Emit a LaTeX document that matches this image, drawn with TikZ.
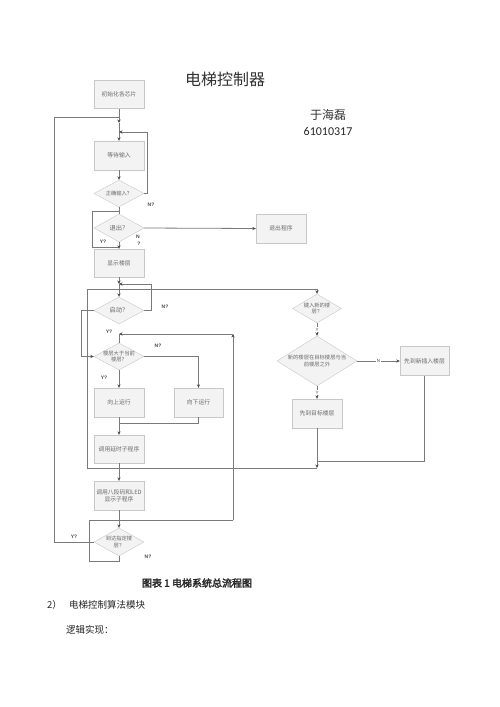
\documentclass[tikz,border=0pt]{standalone}
\usepackage{fontspec}
\setmainfont{Liberation Serif}
\newfontfamily\cjk{Noto Sans CJK SC}
\newfontfamily\cjkb[FakeBold=2.5]{Noto Sans CJK SC}
\newfontfamily\cali{Carlito}
\newfontfamily\labfont{Liberation Sans}
\usetikzlibrary{shapes.geometric,arrows.meta,shadows}
\definecolor{boxline}{HTML}{C8C8C8}
\definecolor{boxfill}{HTML}{F3F3F3}
\definecolor{linec}{HTML}{7A7A7A}
\definecolor{tipc}{HTML}{4A4A4A}
\definecolor{txtgray}{HTML}{6A6A6A}
\begin{document}
\begin{tikzpicture}[x=1pt,y=-1pt,
  box/.style={draw=boxline, fill=boxfill, minimum width=50pt, minimum height=28pt, inner sep=1pt,
    font=\cjk\fontsize{5.8}{7.2}\selectfont, text=txtgray, align=center,
    drop shadow={opacity=0.12, shadow xshift=0.8pt, shadow yshift=-0.8pt}},
  dia/.style={draw=boxline, fill=boxfill, diamond, inner sep=0pt, minimum width=50pt, minimum height=27pt},
  dtext/.style={font=\cjk\fontsize{5.3}{6.8}\selectfont, text=txtgray, align=center},
  conn/.style={draw=linec, line width=0.8pt},
  arr/.style={conn, -{Stealth[length=3.5pt,width=3.2pt,color=tipc]}},
  lab/.style={font=\labfont\bfseries\fontsize{5}{6}\selectfont, text=tipc, inner sep=0.5pt},
  llab/.style={lab, fill=white, font=\labfont\fontsize{4.5}{5}\selectfont}
]
\useasboundingbox (0,0) rectangle (500,707);
\fill[white] (0,0) rectangle (500,707);

% titles
\node[font=\cjk\fontsize{16}{18}\selectfont, text=black!80] (title) at (225,79) {电梯控制器};
\node[font=\cjk\fontsize{12}{14}\selectfont, text=black!80] (author) at (328,115) {于海磊};
\node[font=\cali\fontsize{12}{14}\selectfont, text=black!85] (num) at (328,131) {61010317};

% nodes
\node[box] (init) at (119,94.5) {初始化各芯片};
\node[box, minimum height=29pt] (wait) at (119,155.5) {等待输入};
\node[dia, label={[dtext]center:正确输入？}] (q1) at (119,193.5) {};
\node[dia, minimum height=28pt, label={[dtext, font=\cjk\fontsize{6.3}{8}\selectfont]center:退出？}] (q2) at (119,228) {};
\node[box, minimum height=29pt] (exit) at (281,228.5) {退出程序};
\node[box] (show) at (119,263) {显示楼层};
\node[dia, label={[dtext, font=\cjk\fontsize{6.3}{8}\selectfont]center:启动？}] (q3) at (119,310.5) {};
\node[dia, label={[dtext]center:{楼层大于当前\\楼层？}}] (q4) at (119,356.5) {};
\node[box, minimum height=29pt] (up) at (119,402.5) {向上运行};
\node[box, minimum height=29pt, minimum width=49pt] (down) at (198.5,402.5) {向下运行};
\node[box] (delay) at (119,449) {调用延时子程序};
\node[box, minimum height=29pt] (led) at (119,495.5) {调用八段码和LED\\显示子程序};
\node[dia, minimum height=28pt, label={[dtext]center:{到达指定楼\\层？}}] (q5) at (119,542) {};
\node[dia, minimum width=49pt, minimum height=29pt, label={[dtext]center:{键入新的楼\\层？}}] (q6) at (317,308.5) {};
\node[dia, minimum width=80pt, minimum height=50pt, label={[dtext]center:{新的楼层在目标楼层与当\\前楼层之外}}] (q7) at (317,361) {};
\node[box, minimum height=29pt, minimum width=49pt] (new) at (424.5,361) {先到新插入楼层};
\node[box, minimum height=29pt] (target) at (317,413.5) {先到目标楼层};

% junction coordinates
\coordinate (j1) at (119,117);
\coordinate (j1a) at (119,123);
\coordinate (j2) at (119,132);
\coordinate (L1) at (54,117);
\coordinate (L2) at (54,542);
\coordinate (j3) at (119,211);
\coordinate (j4) at (119,247);
\coordinate (j5) at (119,284);
\coordinate (j6) at (119,334);
\coordinate (r6) at (233,334);
\coordinate (j7) at (119,423);
\coordinate (j8) at (119,468);
\coordinate (a8) at (87,468);
\coordinate (m8) at (317,468);
\coordinate (m7) at (317,461);
\coordinate (j9) at (119,520);
\coordinate (b9) at (89,520);
\coordinate (r9) at (233,520);
\coordinate (t289) at (87,289);

% top part
\draw[arr] (init.south) -- (j1a);
\draw[arr] (j1a) -- (wait.north);
\draw[conn] (L1) -- (j1);
\draw[arr] (wait.south) -- (q1.north);
\draw[arr] (q1.east) -- ++(3,0) |- (j2);
\draw[conn] (q1.south) -- (q2.north);
\draw[conn] (j3) -- (92,211) |- (j4);
\draw[arr] (q2.south) -- (show.north);
\draw[arr] (q2.east) -- (exit.west);

% start loop
\draw[arr] (show.south) -- (j5);
\draw[arr] (j5) -- (q3.north);
\draw[arr] (q3.east) -- ++(7,0) |- (j5);
\draw[arr] (q3.west) -- ++(-12,0) |- (q4.west);

% big loop to right side
\draw[arr] (a8) -- (t289) -| (q6.north);

% direction
\draw[arr] (q4.south) -- (up.north);
\draw[arr] (q4.east) -| (down.north);
\draw[conn] (up.south) -- (j7);
\draw[conn] (down.south) |- (j7);
\draw[arr] (j7) -- (delay.north);
\draw[conn] (delay.south) -- (j8);
\draw[arr] (j8) -- (led.north);
\draw[conn] (a8) -- (m8);

% right side
\draw[arr] (q6.south) -- node[llab] (ly1) {Y} (q7.north);
\draw[arr] (q7.east) -- node[llab] (ln1) {N} (new.west);
\draw[arr] (q7.south) -- node[llab] (ly2) {Y} (target.north);
\draw[arr] (target.south) -- (m8);
\draw[conn] (new.south) |- (m7);

% bottom
\draw[conn] (led.south) -- (j9);
\draw[arr] (j9) -- (q5.north);
\draw[conn] (b9) -- (r9);
\draw[arr] (r9) -- (r6);
\draw[arr] (r6) -- (j6);
\draw[conn] (j6) -- (q4.north);
\draw[conn] (q5.south) -- (119,561) -| (b9);
\draw[conn] (q5.west) -- (L2) -- (L1);

% labels
\node[lab] (n1) at (151,205) {N?};
\node[lab] (y1) at (103,242) {Y?};
\node[lab] (n2) at (138,237) {N};
\node[lab] (n2b) at (139,244) {?};
\node[lab] (n3) at (165,307) {N?};
\node[lab] (y3) at (109,332) {Y?};
\node[lab] (n4) at (158,346) {N?};
\node[lab] (y4) at (104,378) {Y?};
\node[lab] (y5) at (74,537) {Y?};
\node[lab] (n5) at (148,557) {N?};

% caption and text
\node[font=\cjkb\fontsize{10}{12}\selectfont, text=black!85] (cap) at (197,583) {图表 1 电梯系统总流程图};
\node[font=\cjk\fontsize{9.5}{11}\selectfont, text=black!85, anchor=west, inner sep=0pt] (s2) at (47,605) {2）};
\node[font=\cjk\fontsize{9.5}{11}\selectfont, text=black!85, anchor=west, inner sep=0pt] (s2t) at (69,605) {电梯控制算法模块};
\node[font=\cjk\fontsize{9.5}{11}\selectfont, text=black!85, anchor=west, inner sep=0pt] (s3) at (66,630) {逻辑实现：};
\end{tikzpicture}
\end{document}
